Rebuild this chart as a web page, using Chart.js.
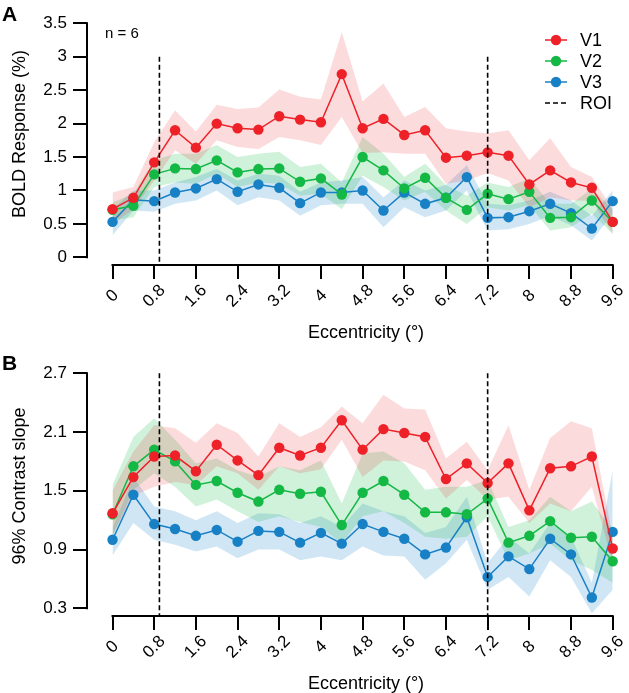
<!DOCTYPE html>
<html><head><meta charset="utf-8">
<script src="https://cdn.jsdelivr.net/npm/chart.js@4.4.1/dist/chart.umd.min.js"></script>
<style>
html,body{margin:0;padding:0;background:#fff;}
#wrap{position:relative;width:629px;height:693px;overflow:hidden;}
canvas{position:absolute;left:0;}
</style>
</head><body>
<div id="wrap">
<canvas id="cA" width="629" height="346" style="top:0px"></canvas>
<canvas id="cB" width="629" height="347" style="top:346px"></canvas>
</div>
<script>
// ---------- data ----------
const eccentricity = [0,0.4,0.8,1.2,1.6,2,2.4,2.8,3.2,3.6,4,4.4,4.8,5.2,5.6,6,6.4,6.8,7.2,7.6,8,8.4,8.8,9.2,9.6];
const xTickValues = [0,0.8,1.6,2.4,3.2,4,4.8,5.6,6.4,7.2,8,8.8,9.6];
const xTickLabels = ['0','0.8','1.6','2.4','3.2','4','4.8','5.6','6.4','7.2','8','8.8','9.6'];
const roiX = [0.9, 7.2];
const seriesNames = ['V1','V2','V3'];

// Panel A: BOLD response (%)
const yTickValuesA = [0,0.5,1,1.5,2,2.5,3,3.5];
const yTickLabelsA = ['0','0.5','1','1.5','2','2.5','3','3.5'];
const v1A = [0.72,0.89,1.42,1.90,1.64,2.00,1.93,1.91,2.11,2.06,2.02,2.74,1.93,2.07,1.83,1.90,1.49,1.52,1.57,1.52,1.09,1.30,1.12,1.04,0.53];
const v2A = [0.71,0.77,1.24,1.33,1.32,1.45,1.27,1.32,1.33,1.13,1.18,0.94,1.50,1.30,1.03,1.19,0.89,0.71,0.95,0.87,0.98,0.59,0.60,0.85,0.53];
const v3A = [0.53,0.86,0.84,0.97,1.03,1.17,0.98,1.09,1.04,0.81,0.97,0.97,1.00,0.70,0.97,0.80,0.89,1.20,0.59,0.60,0.69,0.80,0.66,0.43,0.84];
const v1AHi = [0.97,1.05,1.72,2.20,1.88,2.28,2.22,2.24,2.51,2.40,2.36,3.37,2.33,2.60,2.10,2.25,1.93,1.88,1.85,1.90,1.45,1.78,1.35,1.20,0.72];
const v1ALo = [0.50,0.72,1.15,1.60,1.40,1.75,1.65,1.62,1.80,1.75,1.68,2.10,1.56,1.57,1.55,1.55,1.10,1.15,1.26,1.15,0.75,0.90,0.85,0.85,0.35];
const v2AHi = [0.82,0.95,1.45,1.55,1.55,1.68,1.50,1.55,1.58,1.35,1.40,1.12,1.80,1.55,1.20,1.40,1.08,0.92,1.12,1.05,1.18,0.80,0.80,1.02,0.72];
const v2ALo = [0.55,0.60,1.05,1.12,1.10,1.25,1.05,1.12,1.10,0.92,0.95,0.72,1.22,1.05,0.85,0.98,0.70,0.50,0.75,0.70,0.78,0.40,0.45,0.65,0.35];
const v3AHi = [0.72,1.00,1.00,1.12,1.20,1.32,1.15,1.25,1.22,0.98,1.12,1.15,1.20,0.90,1.15,1.00,1.08,1.38,0.80,0.78,0.85,0.98,0.85,0.62,1.00];
const v3ALo = [0.33,0.70,0.68,0.80,0.85,1.00,0.78,0.90,0.85,0.62,0.78,0.80,0.80,0.45,0.75,0.60,0.70,1.00,0.40,0.42,0.50,0.62,0.48,0.25,0.65];

// Panel B: 96% contrast slope
const yTickValuesB = [0.3,0.9,1.5,2.1,2.7];
const yTickLabelsB = ['0.3','0.9','1.5','2.1','2.7'];
const v1B = [1.27,1.64,1.85,1.86,1.70,1.97,1.81,1.66,1.94,1.86,1.94,2.22,1.92,2.13,2.09,2.05,1.62,1.78,1.58,1.78,1.30,1.73,1.75,1.85,0.91];
const v2B = [1.26,1.75,1.92,1.80,1.56,1.60,1.48,1.39,1.51,1.47,1.49,1.15,1.48,1.60,1.46,1.28,1.28,1.26,1.42,0.97,1.04,1.19,1.02,1.03,0.78];
const v3B = [1.00,1.46,1.16,1.11,1.04,1.10,0.98,1.09,1.08,0.97,1.07,0.96,1.16,1.08,1.01,0.85,0.92,1.23,0.62,0.83,0.70,1.01,0.85,0.41,1.08];
const v1BHi = [1.50,1.90,2.17,2.14,1.99,2.19,2.09,1.85,2.19,2.05,2.15,2.36,2.19,2.48,2.34,2.33,1.83,2.00,1.71,2.17,1.51,2.04,2.21,2.14,1.03];
const v1BLo = [1.05,1.45,1.54,1.59,1.56,1.75,1.68,1.51,1.75,1.68,1.72,2.02,1.64,1.81,1.80,1.71,1.42,1.61,1.41,1.44,1.17,1.37,1.29,1.54,0.76];
const v2BHi = [1.56,2.05,2.24,2.02,1.78,1.83,1.71,1.64,1.75,1.71,1.81,1.37,1.88,1.90,1.78,1.51,1.54,1.54,1.61,1.13,1.20,1.44,1.29,1.39,1.10];
const v2BLo = [1.03,1.51,1.68,1.54,1.34,1.41,1.29,1.18,1.24,1.18,1.13,0.96,1.24,1.29,1.17,1.03,1.01,1.03,1.24,0.79,0.86,0.96,0.79,0.69,0.56];
const v3BHi = [1.12,1.64,1.34,1.29,1.20,1.29,1.17,1.27,1.26,1.17,1.24,1.13,1.37,1.29,1.24,1.07,1.13,1.44,0.76,1.03,0.86,1.17,1.03,0.56,1.71];
const v3BLo = [0.84,1.17,1.00,0.95,0.88,0.93,0.81,0.90,0.90,0.79,0.83,0.79,0.93,0.84,0.83,0.59,0.76,1.00,0.49,0.62,0.42,0.79,0.62,0.25,0.49];

// ---------- styling ----------
const FONT = "'Liberation Sans', Arial, Helvetica, sans-serif";
const COLORS = ['rgb(238,32,40)','rgb(20,184,68)','rgb(24,128,196)'];
const BANDS = ['rgba(238,32,40,0.16)','rgba(20,184,68,0.2)','rgba(40,140,210,0.22)'];

function pts(arr){ return eccentricity.map((x,i)=>({x:x,y:arr[i]})); }

function buildDatasets(series, bands, roiTop, yMin){
  const ds = [];
  roiX.forEach(rx=>{
    ds.push({data:[{x:rx,y:roiTop},{x:rx,y:yMin}], borderColor:'#000', borderWidth:1.6,
      borderDash:[5,3], pointRadius:0, fill:false, clip:false});
  });
  series.forEach((s,i)=>{
    ds.push({data:pts(s), borderColor:COLORS[i], backgroundColor:COLORS[i], borderWidth:1.5,
      pointRadius:5.2, pointBorderWidth:0, pointBackgroundColor:COLORS[i], fill:false, tension:0, clip:false});
  });
  bands.forEach((b,i)=>{
    ds.push({data:pts(b[0]), borderWidth:0, borderColor:'rgba(0,0,0,0)', pointRadius:0, fill:false});
    ds.push({data:pts(b[1]), borderWidth:0, borderColor:'rgba(0,0,0,0)', pointRadius:0, fill:'-1', backgroundColor:BANDS[i]});
  });
  return ds;
}

function decor(opts){
  return {
    id:'decor'+opts.letter,
    afterDraw(chart){
      const ctx = chart.ctx, xs = chart.scales.x, ys = chart.scales.y;
      const left = chart.chartArea.left, bottom = chart.chartArea.bottom;
      ctx.save();
      ctx.strokeStyle = '#000'; ctx.lineWidth = 2; ctx.lineCap = 'square';
      ctx.beginPath();
      ctx.moveTo(left, ys.getPixelForValue(opts.yTicks[0]));
      ctx.lineTo(left, ys.getPixelForValue(opts.yTicks[opts.yTicks.length-1]));
      ctx.moveTo(xs.getPixelForValue(xTickValues[0]), bottom);
      ctx.lineTo(xs.getPixelForValue(xTickValues[xTickValues.length-1]), bottom);
      ctx.stroke();
      ctx.fillStyle = '#000';
      // rotated x tick labels, centred under each tick
      ctx.font = '17px ' + FONT;
      ctx.textAlign = 'center'; ctx.textBaseline = 'middle';
      xTickValues.forEach((v,i)=>{
        ctx.save();
        ctx.translate(xs.getPixelForValue(v), bottom + 31);
        ctx.rotate(-Math.PI/4);
        ctx.fillText(xTickLabels[i], 0, 0);
        ctx.restore();
      });
      // axis titles
      ctx.font = '18px ' + FONT;
      ctx.fillText('Eccentricity (°)', 366, bottom + 68);
      ctx.save();
      ctx.translate(20, opts.yTitleY);
      ctx.rotate(-Math.PI/2);
      ctx.fillText(opts.yTitle, 0, 0);
      ctx.restore();
      // panel letter
      ctx.font = 'bold 21px ' + FONT;
      ctx.textAlign = 'left'; ctx.textBaseline = 'alphabetic';
      ctx.fillText(opts.letter, 2, opts.letterY);
      if (opts.legend){
        ctx.font = '15px ' + FONT;
        ctx.fillText('n = 6', 105, 38);
        ctx.font = '18px ' + FONT;
        ctx.textBaseline = 'middle';
        const items = seriesNames.concat(['ROI']);
        items.forEach((name,i)=>{
          const y = 40 + i*21;
          ctx.beginPath();
          if (i < 3){
            ctx.strokeStyle = COLORS[i]; ctx.lineWidth = 1.5; ctx.setLineDash([]); ctx.lineCap='butt';
            ctx.moveTo(545, y); ctx.lineTo(567, y); ctx.stroke();
            ctx.fillStyle = COLORS[i];
            ctx.beginPath(); ctx.arc(556, y, 5.2, 0, Math.PI*2); ctx.fill();
          } else {
            ctx.strokeStyle = '#000'; ctx.lineWidth = 1.6; ctx.setLineDash([5,3]); ctx.lineCap='butt';
            ctx.moveTo(545, y); ctx.lineTo(567, y); ctx.stroke();
            ctx.setLineDash([]);
          }
          ctx.fillStyle = '#000';
          ctx.fillText(name, 580, y + 1);
        });
      }
      ctx.restore();
    }
  };
}

function makeChart(canvasId, cfg){
  const H = document.getElementById(canvasId).height;
  return new Chart(document.getElementById(canvasId), {
    type:'line',
    data:{datasets: buildDatasets(cfg.series, cfg.bands, cfg.roiTop, cfg.yMin)},
    options:{
      responsive:false, animation:false, events:[],
      layout:{padding:{left:0, right:8.5, top:cfg.top, bottom:0}},
      plugins:{legend:{display:false}, tooltip:{enabled:false}, filler:{drawTime:'beforeDatasetsDraw'}},
      scales:{
        x:{type:'linear', min:-0.49, max:9.75, offset:false,
          border:{display:false},
          grid:{drawOnChartArea:false, drawTicks:true, tickLength:14, color:'#000', lineWidth:2},
          ticks:{display:false, autoSkip:false},
          afterBuildTicks:(ax)=>{ ax.ticks = xTickValues.map(v=>({value:v})); },
          afterFit:(ax)=>{ ax.height = H - cfg.bottom; }
        },
        y:{type:'linear', min:cfg.yMin, max:cfg.yMax,
          border:{display:false},
          grid:{drawOnChartArea:false, drawTicks:true, tickLength:14, color:'#000', lineWidth:2},
          ticks:{autoSkip:false, padding:6, color:'#000', font:{family:FONT, size:17},
            callback:(v,i)=>cfg.yLabels[i]},
          afterBuildTicks:(ax)=>{ ax.ticks = cfg.yTicks.map(v=>({value:v})); },
          afterFit:(ax)=>{ ax.width = 87; }
        }
      }
    },
    plugins:[decor(cfg.decor)]
  });
}

makeChart('cA', {
  series:[v1A,v2A,v3A], bands:[[v1AHi,v1ALo],[v2AHi,v2ALo],[v3AHi,v3ALo]],
  roiTop:3.0, yMin:-0.115, yMax:3.5, top:23.3, bottom:265,
  yTicks:yTickValuesA, yLabels:yTickLabelsA,
  decor:{letter:'A', letterY:21, yTicks:yTickValuesA, yTitle:'BOLD Response (%)', yTitleY:134, legend:true}
});
makeChart('cB', {
  series:[v1B,v2B,v3B], bands:[[v1BHi,v1BLo],[v2BHi,v2BLo],[v3BHi,v3BLo]],
  roiTop:2.7, yMin:0.221, yMax:2.7, top:27.3, bottom:270,
  yTicks:yTickValuesB, yLabels:yTickLabelsB,
  decor:{letter:'B', letterY:24, yTicks:yTickValuesB, yTitle:'96% Contrast slope', yTitleY:140, legend:false}
});
</script>
</body></html>
